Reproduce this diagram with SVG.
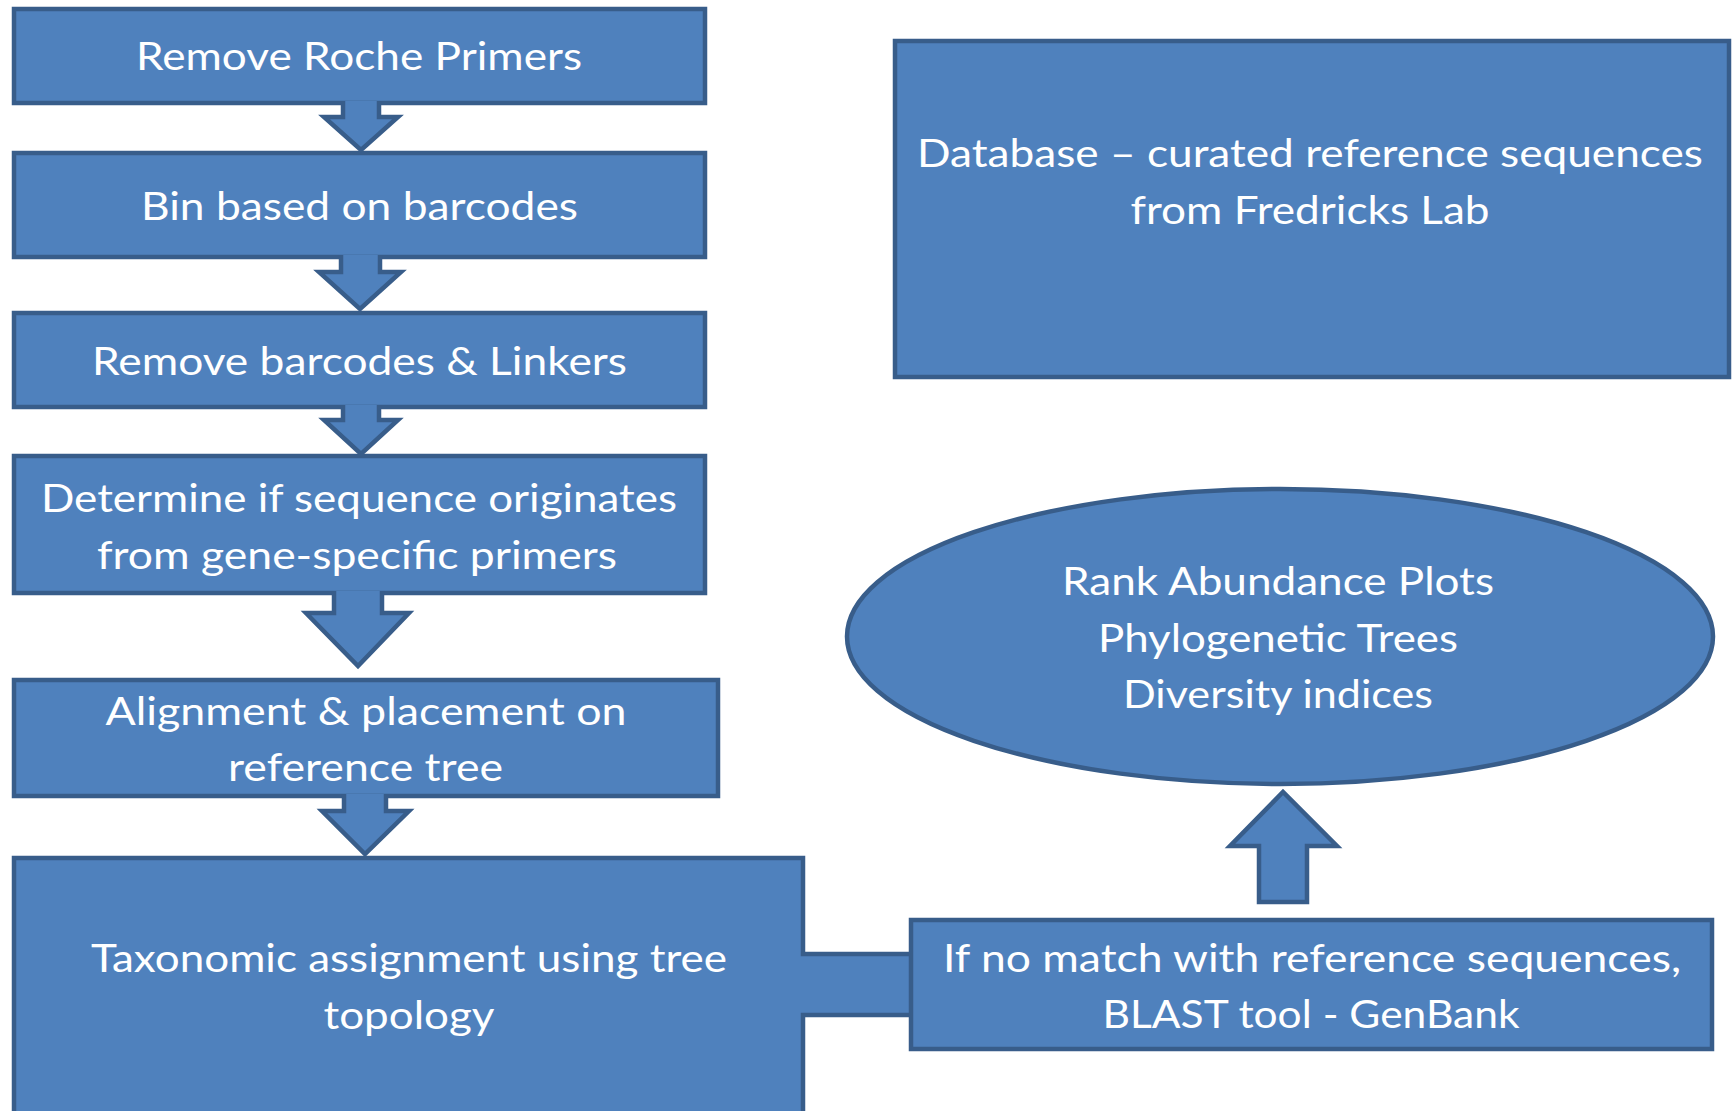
<svg xmlns="http://www.w3.org/2000/svg" width="1733" height="1111" viewBox="0 0 1733 1111">
<style>
.n{fill:#4F81BD;stroke:#385D8A;stroke-width:4.5;stroke-linejoin:miter}
.a{fill:#4F81BD;stroke:#385D8A;stroke-width:4.5;stroke-linejoin:miter}
.t{font-family:Lato,"Open Sans","Liberation Sans",sans-serif;font-size:39px;fill:#FFFFFF;text-anchor:middle}
</style>
<rect width="1733" height="1111" fill="#FFFFFF"/>
<g id="connectors">
<path id="bar6" class="n" d="M14,858 H803 V954 H915 V1015 H803 V1125 H14 Z"/>
</g>
<g id="node-taxonomic">
<text class="t" x="409" y="972" textLength="636" lengthAdjust="spacingAndGlyphs">Taxonomic assignment using tree</text>
<text class="t" x="409" y="1029" textLength="171" lengthAdjust="spacingAndGlyphs">topology</text>
</g>
<g id="node-remove-roche">
<rect class="n" x="14" y="9" width="691" height="94"/>
<text class="t" x="359" y="70" textLength="446" lengthAdjust="spacingAndGlyphs">Remove Roche Primers</text>
</g>
<g id="node-bin">
<rect class="n" x="14" y="153" width="691" height="104"/>
<text class="t" x="359.5" y="220" textLength="437" lengthAdjust="spacingAndGlyphs">Bin based on barcodes</text>
</g>
<g id="node-remove-barcodes">
<rect class="n" x="14" y="313" width="691" height="94"/>
<text class="t" x="359.5" y="375" textLength="535" lengthAdjust="spacingAndGlyphs">Remove barcodes &amp; Linkers</text>
</g>
<g id="node-determine">
<rect class="n" x="14" y="456" width="691" height="137"/>
<text class="t" x="359" y="512" textLength="636" lengthAdjust="spacingAndGlyphs">Determine if sequence originates</text>
<text class="t" x="357" y="569" textLength="520" lengthAdjust="spacingAndGlyphs">from gene-specific primers</text>
</g>
<g id="node-alignment">
<rect class="n" x="14" y="680" width="704" height="116"/>
<text class="t" x="366" y="725" textLength="521" lengthAdjust="spacingAndGlyphs">Alignment &amp; placement on</text>
<text class="t" x="365.5" y="781" textLength="275" lengthAdjust="spacingAndGlyphs">reference tree</text>
</g>
<g id="node-blast">
<rect class="n" x="911" y="920" width="801" height="129"/>
<text class="t" x="1312" y="972" textLength="738" lengthAdjust="spacingAndGlyphs">If no match with reference sequences,</text>
<text class="t" x="1311" y="1028" textLength="417" lengthAdjust="spacingAndGlyphs">BLAST tool - GenBank</text>
</g>
<g id="node-database">
<rect class="n" x="895" y="41" width="834" height="336"/>
<text class="t" x="1310" y="167" textLength="786" lengthAdjust="spacingAndGlyphs">Database – curated reference sequences</text>
<text class="t" x="1310" y="224" textLength="359" lengthAdjust="spacingAndGlyphs">from Fredricks Lab</text>
</g>
<g id="node-results">
<ellipse class="n" cx="1280" cy="636.5" rx="433" ry="147.5"/>
<text class="t" x="1278" y="595" textLength="432" lengthAdjust="spacingAndGlyphs">Rank Abundance Plots</text>
<text class="t" x="1278" y="652" textLength="360" lengthAdjust="spacingAndGlyphs">Phylogenetic Trees</text>
<text class="t" x="1278" y="708" textLength="310" lengthAdjust="spacingAndGlyphs">Diversity indices</text>
</g>
<g id="arrows">
<path class="a" d="M343,101 V117 H324 L361,150 L398,117 H379 V101"/>
<path class="a" d="M341,255 V272 H319 L360,309 L401,272 H380 V255"/>
<path class="a" d="M343,405 V420 H324 L361,454 L398,420 H379 V405"/>
<path class="a" d="M334,591 V613 H306 L358,666 L409,613 H382 V591"/>
<path class="a" d="M344,794 V811 H322 L365,854 L409,811 H386 V794"/>
<path class="a" d="M1259,902 V846 H1230 L1283,792 L1337,846 H1307 V902 Z"/>
</g>
</svg>
